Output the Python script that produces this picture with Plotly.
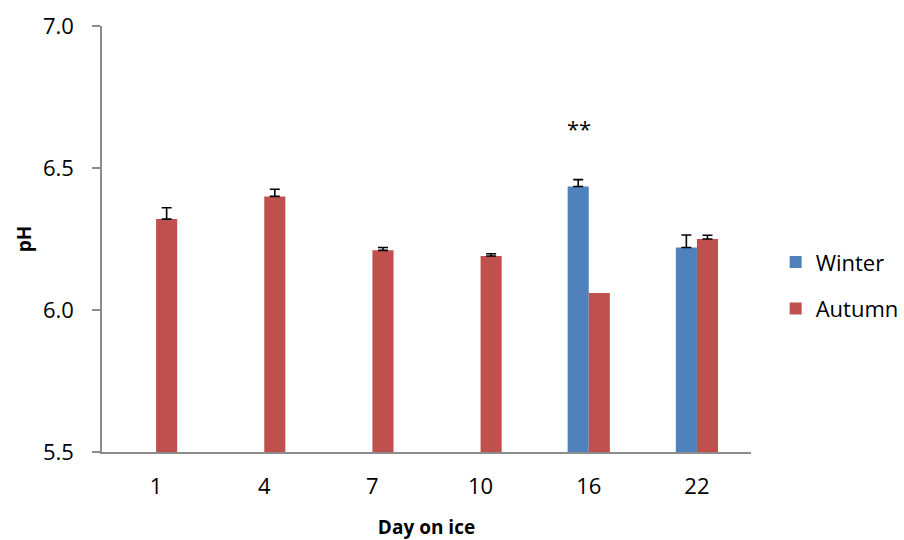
import plotly.graph_objects as go

days = ["1", "4", "7", "10", "16", "22"]
winter = [None, None, None, None, 6.435, 6.22]
winter_err = [None, None, None, None, 0.024, 0.044]
autumn = [6.32, 6.40, 6.21, 6.19, 6.06, 6.25]
autumn_err = [0.04, 0.025, 0.01, 0.008, None, 0.013]
star_day_index = 4  # "16"
star_y = 6.64

FONT = "Open Sans"


def plus_of(errs):
    # "NaN" so plotly.js skips the error bar entirely where there is none
    return ["NaN" if e is None else e for e in errs]


def minus_of(errs):
    return ["NaN" if e is None else 0 for e in errs]


fig = go.Figure()
fig.add_trace(go.Bar(
    name="Winter", x=days, y=winter, marker_color="#4F81BD",
    marker_line_width=0, legendgroup="w",
    error_y=dict(type="data", array=plus_of(winter_err), arrayminus=minus_of(winter_err),
                 symmetric=False, color="black", thickness=1.6, width=5),
))
fig.add_trace(go.Bar(
    name="Autumn", x=days, y=autumn, marker_color="#C0504D",
    marker_line_width=0, legendgroup="a",
    error_y=dict(type="data", array=plus_of(autumn_err), arrayminus=minus_of(autumn_err),
                 symmetric=False, color="black", thickness=1.6, width=5),
))

fig.add_annotation(x=star_day_index, y=star_y, xref="x", yref="y", text="**",
                   showarrow=False, xshift=-10,
                   font=dict(family=FONT, size=22, color="black"))

fig.update_layout(
    width=904, height=540,
    margin=dict(l=102, r=153, t=26, b=88, autoexpand=False),
    paper_bgcolor="white", plot_bgcolor="white",
    barmode="group", bargap=0.61, bargroupgap=0,
    font=dict(family=FONT, size=22, color="black"),
    showlegend=True,
    legend=dict(x=1.038, y=0.495, xanchor="left", yanchor="top",
                font=dict(family=FONT, size=22), tracegroupgap=15,
                traceorder="grouped"),
    xaxis=dict(type="category", range=[-0.5, 5.5], showline=True, automargin=False,
               linecolor="#8c8c8c", linewidth=1.5,
               ticks="", showgrid=False, zeroline=False, ticklabelstandoff=14,
               tickfont=dict(family=FONT, size=22),
               title=dict(text="<b>Day on ice</b>", font=dict(family=FONT, size=19), standoff=24)),
    yaxis=dict(range=[5.5, 7.0], tickvals=[5.5, 6.0, 6.5, 7.0], tickformat=".1f",
               showline=True, linecolor="#8c8c8c", linewidth=1.5, automargin=False,
               ticks="outside", ticklen=8, tickcolor="#8c8c8c", tickwidth=1.5,
               showgrid=False, zeroline=False, ticklabelstandoff=14,
               tickfont=dict(family=FONT, size=22),
               title=dict(text="<b>pH</b>", font=dict(family=FONT, size=19), standoff=6)),
)

fig.write_html("out.html", config={"displayModeBar": False},
               post_script="document.body.style.margin='0';document.body.style.overflow='hidden';")
